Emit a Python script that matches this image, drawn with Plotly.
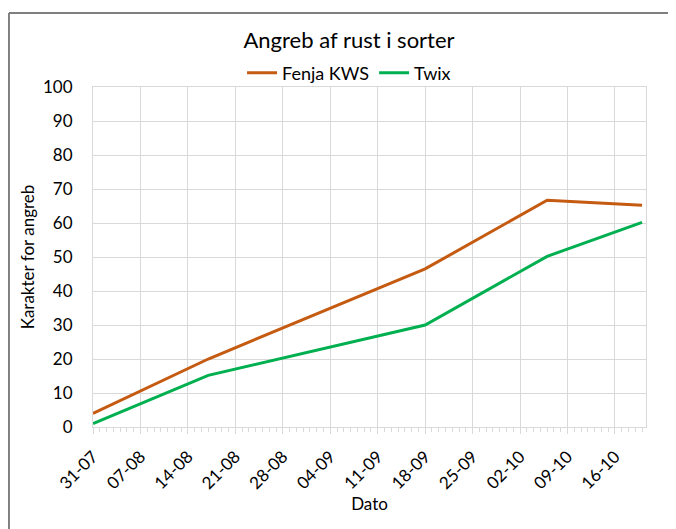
import plotly.graph_objects as go

dates = ["2021-07-31", "2021-08-17", "2021-09-18", "2021-10-06", "2021-10-20"]
fenja_kws = [4, 20, 46.5, 66.7, 65.2]
twix = [1, 15.2, 30, 50.2, 60.2]

FONT = "Lato"
GRID = "#D9D9D9"
BORDER = "#7F7F7F"

fig = go.Figure()
fig.add_trace(go.Scatter(x=dates, y=fenja_kws, mode="lines", name="Fenja KWS",
                         line=dict(color="#C55A11", width=3)))
fig.add_trace(go.Scatter(x=dates, y=twix, mode="lines", name="Twix",
                         line=dict(color="#00B050", width=3)))

# the page adds an 8px body margin, so the figure is 8px smaller and laid out 8px up/left
fig.update_layout(
    width=668,
    height=521,
    margin=dict(l=85, r=30, t=79, b=102),
    paper_bgcolor="white",
    plot_bgcolor="white",
    font=dict(family=FONT, size=16, color="#000000"),
    title=dict(text="Angreb af rust i sorter", x=0.463, xref="paper", xanchor="center",
               y=0.9386, yanchor="middle", font=dict(size=22, color="#000000")),
    legend=dict(orientation="h", x=0.463, xanchor="center", y=1.041, yanchor="middle",
                font=dict(size=18), itemwidth=30, bgcolor="rgba(0,0,0,0)"),
    xaxis=dict(
        type="date",
        range=["2021-07-31", "2021-10-20 14:00"],
        tick0="2021-07-31",
        dtick=7 * 86400000,
        tickformat="%d-%m",
        tickangle=-45,
        showgrid=True,
        gridcolor=GRID,
        gridwidth=1,
        showline=True,
        linecolor=GRID,
        linewidth=1,
        mirror=True,
        ticks="outside",
        ticklen=6,
        tickcolor=GRID,
        ticklabelstandoff=6,
        minor=dict(dtick=86400000, ticks="outside", ticklen=4, tickcolor=GRID, showgrid=False),
        zeroline=False,
        title=dict(text="Dato", font=dict(size=17), standoff=6),
        tickfont=dict(size=17),
    ),
    yaxis=dict(
        range=[0, 100],
        dtick=10,
        showgrid=True,
        gridcolor=GRID,
        gridwidth=1,
        showline=True,
        linecolor=GRID,
        mirror=True,
        zeroline=False,
        ticks="",
        ticklabelstandoff=16,
        tickfont=dict(size=17),
        title=dict(text="Karakter for angreb", font=dict(size=17), standoff=4),
    ),
)

# outer chart border: only its left and top edges are inside the picture
fig.add_shape(type="line", xref="paper", yref="paper",
              x0=-0.152, y0=-0.4, x1=-0.152, y1=1.2176,
              line=dict(color=BORDER, width=2), layer="below")
fig.add_shape(type="line", xref="paper", yref="paper",
              x0=-0.152, y0=1.2176, x1=1.1, y1=1.2176,
              line=dict(color=BORDER, width=2), layer="below")

fig.write_html("out.html")
